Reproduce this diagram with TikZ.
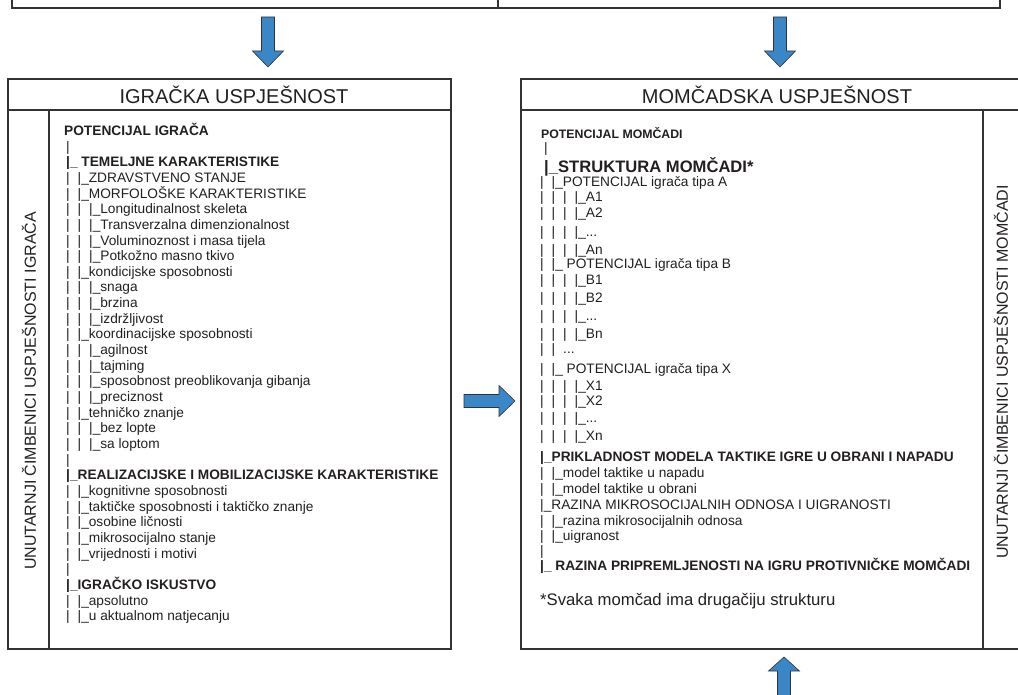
\documentclass[tikz,border=0pt]{standalone}
\usepackage{fontspec}
\setmainfont{Liberation Sans}
\definecolor{ln}{HTML}{333333}
\definecolor{tx}{HTML}{231F20}
\definecolor{arr}{HTML}{3A87C8}
\newcommand\lv{\makebox[11.5pt][l]{|}}
\newcommand\br{|\_}
\newcommand\Ly[1]{135.5+15.65*#1}
\begin{document}
\begin{tikzpicture}[x=1pt,y=-1pt,
  txt/.style={anchor=base west, inner sep=0pt, text=tx, font=\fontsize{13.7}{15}\selectfont},
  btxt/.style={txt, font=\fontsize{13.7}{15}\selectfont\bfseries},
  frame/.style={draw=ln, line width=1.3pt},
  ttl/.style={inner sep=0pt, text=tx, font=\fontsize{20}{22}\selectfont},
  vt/.style={inner sep=0pt, text=tx, font=\fontsize{16}{18}\selectfont, rotate=90},
  blk/.style={fill=arr, draw=ln, line width=0.6pt, line join=miter}]
\useasboundingbox (0,0) rectangle (1018,695);
\clip (0,0) rectangle (1018,695);
% top bar
\draw[frame] (12,-10) -- (12,8) -- (1000,8) -- (1000,-10);
\draw[frame] (498,-10) -- (498,8);
% boxes
\draw[frame] (8,79) rectangle (451,649);
\draw[frame] (8,110) -- (451,110);
\draw[frame] (49,110) -- (49,649);
\draw[frame] (521,79) rectangle (1040,649);
\draw[frame] (521,110) -- (1040,110);
\draw[frame] (983,110) -- (983,649);
% block arrows
\draw[blk] (261.5,17) -- (274.5,17) -- (274.5,51) -- (283.5,51) -- (268,67) -- (252.5,51) -- (261.5,51) -- cycle;
\draw[blk] (773.5,17) -- (786.5,17) -- (786.5,51) -- (795.5,51) -- (780,67) -- (764.5,51) -- (773.5,51) -- cycle;
\draw[blk] (464,394.5) -- (499,394.5) -- (499,385.5) -- (515,401) -- (499,416.5) -- (499,407.5) -- (464,407.5) -- cycle;
\draw[blk] (777.5,700) -- (777.5,671) -- (768.5,671) -- (784,657) -- (799.5,671) -- (790.5,671) -- (790.5,700) -- cycle;
% titles
\node[ttl] (t1) at (234,95) {IGRAČKA USPJEŠNOST};
\node[ttl] (t2) at (777,95) {MOMČADSKA USPJEŠNOST};
\node[vt] (v1) at (29,391) {UNUTARNJI ČIMBENICI USPJEŠNOSTI IGRAČA};
\node[vt] (v2) at (1001,372) {UNUTARNJI ČIMBENICI USPJEŠNOSTI MOMČADI};
% left tree
\node[btxt] (a0) at (64,{\Ly{0}}) {POTENCIJAL IGRAČA};
\node[txt] (a1) at (66,{\Ly{1}}) {|};
\node[btxt] (a2) at (66,{\Ly{2}}) {\br\ TEMELJNE KARAKTERISTIKE};
\node[txt] (a3) at (66,{\Ly{3}}) {\lv\br ZDRAVSTVENO STANJE};
\node[txt] (a4) at (66,{\Ly{4}}) {\lv\br MORFOLOŠKE KARAKTERISTIKE};
\node[txt] (a5) at (66,{\Ly{5}}) {\lv\lv\br Longitudinalnost skeleta};
\node[txt] (a6) at (66,{\Ly{6}}) {\lv\lv\br Transverzalna dimenzionalnost};
\node[txt] (a7) at (66,{\Ly{7}}) {\lv\lv\br Voluminoznost i masa tijela};
\node[txt] (a8) at (66,{\Ly{8}}) {\lv\lv\br Potkožno masno tkivo};
\node[txt] (a9) at (66,{\Ly{9}}) {\lv\br kondicijske sposobnosti};
\node[txt] (a10) at (66,{\Ly{10}}) {\lv\lv\br snaga};
\node[txt] (a11) at (66,{\Ly{11}}) {\lv\lv\br brzina};
\node[txt] (a12) at (66,{\Ly{12}}) {\lv\lv\br izdržljivost};
\node[txt] (a13) at (66,{\Ly{13}}) {\lv\br koordinacijske sposobnosti};
\node[txt] (a14) at (66,{\Ly{14}}) {\lv\lv\br agilnost};
\node[txt] (a15) at (66,{\Ly{15}}) {\lv\lv\br tajming};
\node[txt] (a16) at (66,{\Ly{16}}) {\lv\lv\br sposobnost preoblikovanja gibanja};
\node[txt] (a17) at (66,{\Ly{17}}) {\lv\lv\br preciznost};
\node[txt] (a18) at (66,{\Ly{18}}) {\lv\br tehničko znanje};
\node[txt] (a19) at (66,{\Ly{19}}) {\lv\lv\br bez lopte};
\node[txt] (a20) at (66,{\Ly{20}}) {\lv\lv\br sa loptom};
\node[txt] (a21) at (66,{\Ly{21}}) {|};
\node[btxt] (a22) at (66,{\Ly{22}}) {\br REALIZACIJSKE I MOBILIZACIJSKE KARAKTERISTIKE};
\node[txt] (a23) at (66,{\Ly{23}}) {\lv\br kognitivne sposobnosti};
\node[txt] (a24) at (66,{\Ly{24}}) {\lv\br taktičke sposobnosti i taktičko znanje};
\node[txt] (a25) at (66,{\Ly{25}}) {\lv\br osobine ličnosti};
\node[txt] (a26) at (66,{\Ly{26}}) {\lv\br mikrosocijalno stanje};
\node[txt] (a27) at (66,{\Ly{27}}) {\lv\br vrijednosti i motivi};
\node[txt] (a28) at (66,{\Ly{28}}) {|};
\node[btxt] (a29) at (66,{\Ly{29}}) {\br IGRAČKO ISKUSTVO};
\node[txt] (a30) at (66,{\Ly{30}}) {\lv\br apsolutno};
\node[txt] (a31) at (66,{\Ly{31}}) {\lv\br u aktualnom natjecanju};
% right tree
\node[btxt, font=\fontsize{12.3}{14}\selectfont\bfseries] (b0) at (541,139) {POTENCIJAL MOMČADI};
\node[txt] (b1) at (544,153) {|};
\node[btxt, font=\fontsize{16.6}{18}\selectfont\bfseries] (b2) at (544,173) {\br STRUKTURA MOMČADI*};
\node[txt] (b3) at (540,187) {\lv\br POTENCIJAL igrača tipa A};
\node[txt] (b4) at (540,202) {\lv\lv\lv\br A1};
\node[txt] (b5) at (540,218) {\lv\lv\lv\br A2};
\node[txt] (b6) at (540,237) {\lv\lv\lv\br ...};
\node[txt] (b7) at (540,255) {\lv\lv\lv\br An};
\node[txt] (b8) at (540,269) {\lv\br\ POTENCIJAL igrača tipa B};
\node[txt] (b9) at (540,285) {\lv\lv\lv\br B1};
\node[txt] (b10) at (540,302) {\lv\lv\lv\br B2};
\node[txt] (b11) at (540,320) {\lv\lv\lv\br ...};
\node[txt] (b12) at (540,338) {\lv\lv\lv\br Bn};
\node[txt] (b13) at (540,353) {\lv\lv ...};
\node[txt] (b14) at (540,373) {\lv\br\ POTENCIJAL igrača tipa X};
\node[txt] (b15) at (540,390) {\lv\lv\lv\br X1};
\node[txt] (b16) at (540,405) {\lv\lv\lv\br X2};
\node[txt] (b17) at (540,422) {\lv\lv\lv\br ...};
\node[txt] (b18) at (540,440) {\lv\lv\lv\br Xn};
\node[btxt] (b19) at (540,461) {\br PRIKLADNOST MODELA TAKTIKE IGRE U OBRANI I NAPADU};
\node[txt] (b20) at (540,477) {\lv\br model taktike u napadu};
\node[txt] (b21) at (540,493) {\lv\br model taktike u obrani};
\node[txt] (b22) at (540,509) {\br RAZINA MIKROSOCIJALNIH ODNOSA I UIGRANOSTI};
\node[txt] (b23) at (540,525) {\lv\br razina mikrosocijalnih odnosa};
\node[txt] (b24) at (540,540) {\lv\br uigranost};
\node[txt] (b25) at (540,555) {|};
\node[btxt] (b26) at (540,570) {\br\ RAZINA PRIPREMLJENOSTI NA IGRU PROTIVNIČKE MOMČADI};
\node[txt, font=\fontsize{16.7}{18}\selectfont] (b27) at (540,605) {*Svaka momčad ima drugačiju strukturu};
\end{tikzpicture}
\end{document}
